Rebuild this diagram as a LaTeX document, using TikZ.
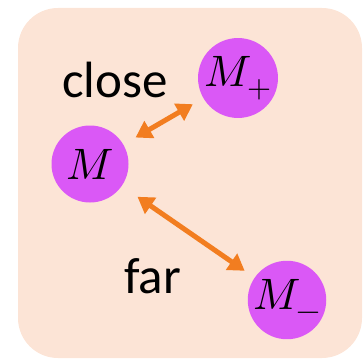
\documentclass[tikz,border=0pt]{standalone}
\usepackage{unicode-math}
\newfontfamily\labelfont{Carlito}
\usetikzlibrary{arrows.meta}
\definecolor{bgpeach}{RGB}{252,228,214}
\definecolor{ballpurple}{RGB}{218,88,246}
\definecolor{arroworange}{RGB}{242,125,32}
\tikzset{
  ball/.style={circle, fill=ballpurple, minimum size=77pt, inner sep=0pt,
    font=\fontsize{44}{44}\selectfont},
  link/.style={arroworange, line width=5pt,
    {Triangle[length=16pt,width=19pt]}-{Triangle[length=16pt,width=19pt]}},
  lbl/.style={font=\labelfont\fontsize{51}{51}\selectfont, inner sep=0pt, anchor=base west}
}
\begin{document}
\begin{tikzpicture}[x=1pt,y=1pt]
\useasboundingbox (0,0) rectangle (363,362);
\fill[bgpeach, rounded corners=40pt] (18,4) rectangle (362,354);
\node[ball] (M) at (90,198) {$M$};
\node[ball] (Mp) at (238,284) {$M_+$};
\node[ball] (Mm) at (287,62) {$M_-$};
\draw[link, shorten <=14pt, shorten >=12pt] (M) -- (Mp);
\draw[link, shorten <=19pt, shorten >=12pt] (M) -- (Mm);
\node[lbl] (close) at (62,265) {close};
\node[lbl] (far) at (124,69) {far};
\end{tikzpicture}
\end{document}
